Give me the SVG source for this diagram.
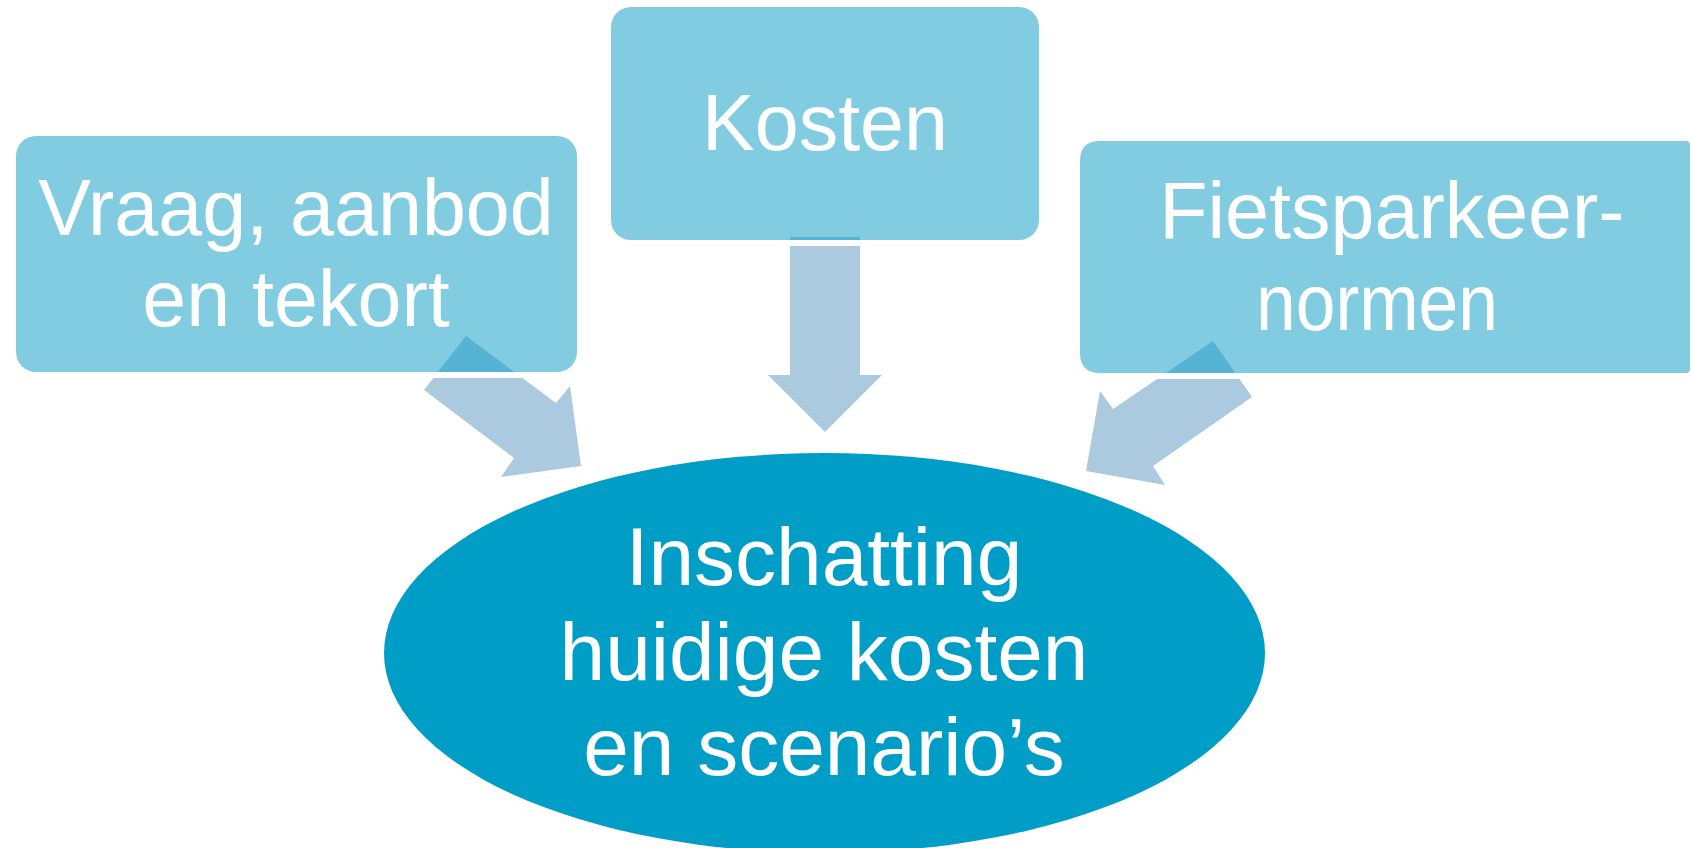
<svg xmlns="http://www.w3.org/2000/svg" xmlns:xlink="http://www.w3.org/1999/xlink" width="1691" height="848" viewBox="0 0 1691 848">
  <style>
    .box { fill: #82cce2; }
    .ell { fill: #009dc7; }
    .lbl { fill: #ffffff; font-family: "Liberation Sans", Arial, sans-serif; text-anchor: middle; }
    .bl { font-size: 79px; }
    .el { font-size: 82px; }
    .arr { fill: #abcadf; }
    .arrd { fill: #55b3d3; }
  </style>
  <defs>
    <polygon id="aLeft" points="424,390 466,336 556,403 570,386 581,466 501,477 514,458"/>
    <polygon id="aDown" points="790,237 860,237 860,375 882,375 825,432 768,375 790,375"/>
    <polygon id="aRight" points="1252,397 1213,341 1113,409 1100,391 1086,471 1165,485 1153,466"/>
    <clipPath id="cLeftIn"><rect x="0" y="0" width="1691" height="372"/></clipPath>
    <clipPath id="cLeftOut"><rect x="0" y="378" width="1691" height="470"/></clipPath>
    <clipPath id="cDownIn"><rect x="0" y="0" width="1691" height="240"/></clipPath>
    <clipPath id="cDownOut"><rect x="0" y="246" width="1691" height="602"/></clipPath>
    <clipPath id="cRightIn"><rect x="0" y="0" width="1691" height="373"/></clipPath>
    <clipPath id="cRightOut"><rect x="0" y="379" width="1691" height="469"/></clipPath>
  </defs>
  <rect width="1691" height="848" fill="#ffffff"/>

  <g id="node-vraag">
    <rect class="box" x="16" y="136" width="561" height="236" rx="20"/>
    <text class="lbl bl" x="296" y="235">Vraag, aanbod</text>
    <text class="lbl bl" x="296" y="326">en tekort</text>
  </g>

  <g id="node-kosten">
    <rect class="box" x="611" y="7" width="428" height="233" rx="20"/>
    <text class="lbl bl" x="825" y="150">Kosten</text>
  </g>

  <g id="node-normen">
    <path class="box" d="M1100,141 H1686 Q1690,141 1690,145 V369 Q1690,373 1686,373 H1100 Q1080,373 1080,353 V161 Q1080,141 1100,141 Z"/>
    <text class="lbl bl" x="1392" y="238">Fietsparkeer-</text>
    <text class="lbl bl" x="1377" y="330" textLength="242" lengthAdjust="spacingAndGlyphs">normen</text>
  </g>

  <g id="node-inschatting">
    <ellipse class="ell" cx="824.5" cy="653" rx="440.5" ry="200"/>
    <text class="lbl el" x="824" y="585">Inschatting</text>
    <text class="lbl el" x="824" y="680">huidige kosten</text>
    <text class="lbl el" x="824" y="775">en scenario’s</text>
  </g>

  <g id="connectors">
    <use href="#aLeft" class="arrd" clip-path="url(#cLeftIn)"/>
    <use href="#aLeft" class="arr" clip-path="url(#cLeftOut)"/>
    <use href="#aDown" class="arrd" clip-path="url(#cDownIn)"/>
    <use href="#aDown" class="arr" clip-path="url(#cDownOut)"/>
    <use href="#aRight" class="arrd" clip-path="url(#cRightIn)"/>
    <use href="#aRight" class="arr" clip-path="url(#cRightOut)"/>
  </g>
</svg>
